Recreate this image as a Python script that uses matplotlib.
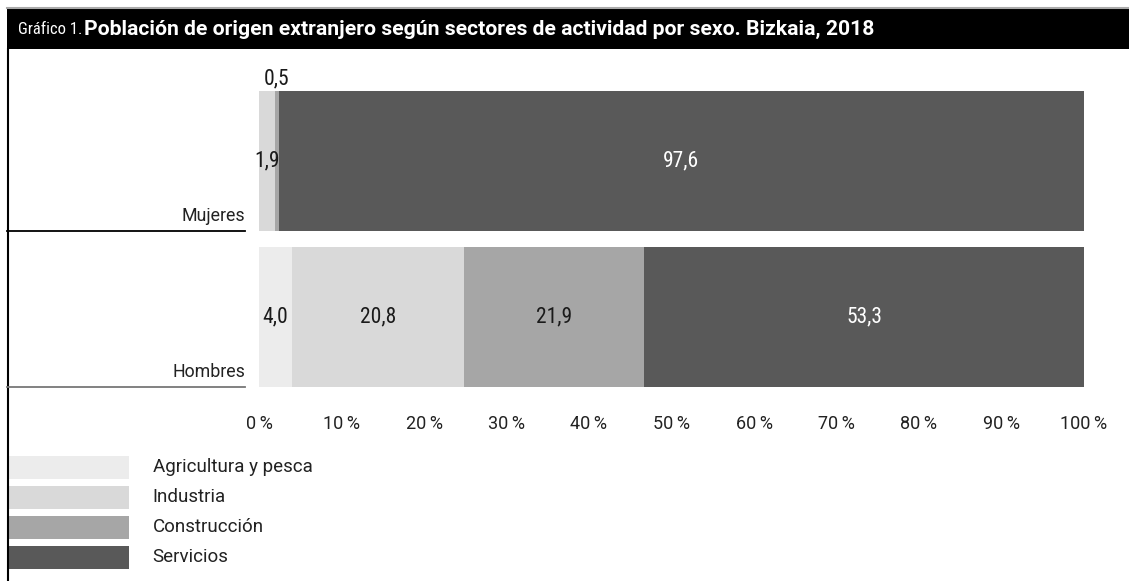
import numpy as np
import matplotlib.pyplot as plt
from matplotlib.patches import Rectangle
from matplotlib.lines import Line2D

# Data
sexos = ['Hombres', 'Mujeres']
sectores = ['Agricultura y pesca', 'Industria', 'Construcción', 'Servicios']
agricultura = [4.0, 0.0]
industria = [20.8, 1.9]
construccion = [21.9, 0.5]
servicios = [53.3, 97.6]
ticks = [0, 10, 20, 30, 40, 50, 60, 70, 80, 90, 100]

colores = ['#ececec', '#d9d9d9', '#a6a6a6', '#595959']
W, H = 1129, 581

plt.rcParams['font.family'] = ['Roboto', 'DejaVu Sans']
narrow = ['Roboto Condensed', 'Liberation Sans Narrow', 'Roboto', 'DejaVu Sans']

fig = plt.figure(figsize=(W / 100, H / 100), dpi=100)

def fx(px):
    return px / W

def fy(py):
    return 1 - py / H

# title bar and frame
fig.patches.append(Rectangle((fx(7), fy(49)), fx(1129) - fx(7), fy(8) - fy(49),
                             transform=fig.transFigure, facecolor='black',
                             edgecolor='none', zorder=0))
fig.lines.append(Line2D([fx(7), 1], [fy(7.5), fy(7.5)], transform=fig.transFigure,
                        color='#aaaaaa', lw=1.5))
fig.lines.append(Line2D([fx(7.5), fx(7.5)], [fy(49), 0], transform=fig.transFigure,
                        color='black', lw=1.5))
fig.text(fx(18), fy(29), 'Gráfico 1.', color='white', fontsize=12,
         va='center', ha='left', family=narrow)
fig.text(fx(84), fy(29), 'Población de origen extranjero según sectores de actividad por sexo. Bizkaia, 2018',
         color='white', fontsize=15.2, fontweight='bold', va='center', ha='left')

# main axes
ax = fig.add_axes([fx(259), fy(387), fx(1084) - fx(259), fy(91) - fy(387)])
h = 0.894
y = np.arange(len(sexos))
series = [agricultura, industria, construccion, servicios]
left = np.zeros(len(sexos))
for serie, color, nombre in zip(series, colores, sectores):
    vals = np.array(serie)
    ax.barh(y, vals, left=left, height=h, color=color, edgecolor='none', label=nombre)
    for i, v in enumerate(vals):
        if v <= 0:
            continue
        tc = 'white' if color == '#595959' else '#1a1a1a'
        cx = left[i] + v / 2
        if v < 1:
            ax.text(cx, y[i] + h / 2 + 0.01, f'{v:.1f}'.replace('.', ','),
                    ha='center', va='bottom', fontsize=15.5, color=tc, family=narrow)
        else:
            ax.text(cx, y[i], f'{v:.1f}'.replace('.', ','), ha='center', va='center',
                    fontsize=15.5, color=tc, family=narrow)
    left = left + vals

ax.set_xlim(0, 100)
ax.set_ylim(-h / 2, 1 + h / 2)
ax.set_xticks(ticks)
ax.set_xticklabels([f'{t}\u2009%' for t in ticks], fontsize=13, color='#222222')
ax.tick_params(axis='x', length=0, pad=20)
ax.set_yticks([])
for s in ax.spines.values():
    s.set_visible(False)

# category labels with underline
for i, nombre in enumerate(sexos):
    ybot = [387, 231][i]
    fig.text(fx(245), fy(ybot - 6), nombre, ha='right', va='bottom',
             fontsize=12.8, color='#222222')
    fig.lines.append(Line2D([fx(7), fx(245)], [fy(ybot), fy(ybot)],
                            transform=fig.transFigure,
                            color=['#777777', 'black'][i], lw=1.3))

# legend as its own axes
lax = fig.add_axes([fx(7), fy(569), fx(129) - fx(7), fy(456) - fy(569)])
ly = np.arange(len(sectores))[::-1]
lax.barh(ly, [1] * len(sectores), height=23 / 30, color=colores, edgecolor='none')
lax.set_xlim(0, 1)
lax.set_ylim(-0.5 + (30 - 23) / 60, len(sectores) - 0.5 - (30 - 23) / 60)
lax.axis('off')
for yy, nombre in zip(ly, sectores):
    lax.annotate(nombre, (1, yy), xytext=(17, 0), textcoords='offset points',
                 xycoords='data', ha='left', va='center', fontsize=13.5,
                 color='#222222', annotation_clip=False)

fig.savefig('out.png', dpi=100)
